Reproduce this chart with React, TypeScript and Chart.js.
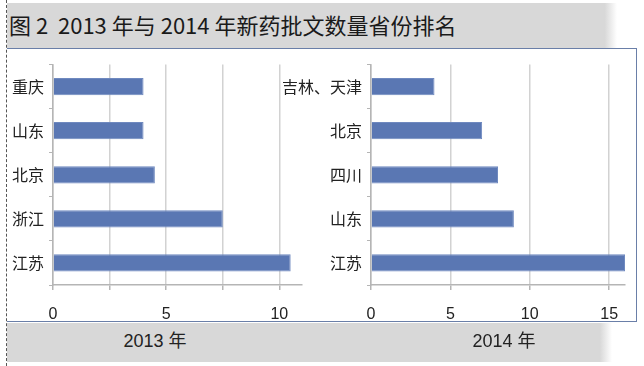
import React, { useEffect, useRef } from "react";
import { Chart, registerables } from "chart.js";

Chart.register(...registerables);

const chartTitle = "图 2  2013 年与 2014 年新药批文数量省份排名";
const leftYearLabel = "2013 年";
const rightYearLabel = "2014 年";

const leftCategories = ["重庆", "山东", "北京", "浙江", "江苏"];
const leftValues = [4, 4, 4.5, 7.5, 10.5];
const leftTickLabels = [0, 5, 10];

const rightCategories = ["吉林、天津", "北京", "四川", "山东", "江苏"];
const rightValues = [4, 7, 8, 9, 16];
const rightTickLabels = [0, 5, 10, 15];

const BAR = "#5a77b3";
const GRID = "#d2d2d2";
const AXIS = "#b5b5b5";
const CJK = '"Noto Sans CJK SC", "Noto Sans", sans-serif';
const NUM = '"Liberation Sans", Arial, sans-serif';

function makeConfig(
  categories: string[],
  values: number[],
  tickLabels: number[],
  max: number,
  step: number,
  yWidth: number,
  padRight: number
): any {
  return {
    type: "bar",
    data: {
      labels: categories,
      datasets: [
        {
          data: values,
          backgroundColor: BAR,
          borderColor: "#6f89bf",
          borderWidth: 1,
          categoryPercentage: 1,
          barPercentage: 0.39,
        },
      ],
    },
    options: {
      indexAxis: "y",
      animation: false,
      responsive: false,
      maintainAspectRatio: false,
      layout: { padding: { top: 12, right: padRight, bottom: 0, left: 0 } },
      plugins: { legend: { display: false }, tooltip: { enabled: false } },
      scales: {
        x: {
          type: "linear",
          min: 0,
          max: max,
          afterFit: (s: any) => {
            s.height = 37;
          },
          ticks: {
            stepSize: step,
            includeBounds: false,
            autoSkip: false,
            maxRotation: 0,
            padding: 15,
            color: "#222",
            font: { family: NUM, size: 16 },
            callback: (v: any) => (tickLabels.includes(Number(v)) ? String(v) : ""),
          },
          grid: {
            color: GRID,
            lineWidth: 1.5,
            drawTicks: true,
            tickLength: 5,
            tickColor: AXIS,
          },
          border: { display: true, color: AXIS, width: 1.5 },
        },
        y: {
          type: "category",
          afterFit: (s: any) => {
            s.width = yWidth;
          },
          ticks: {
            padding: 5,
            color: "#222",
            font: { family: CJK, size: 16 },
          },
          grid: {
            drawOnChartArea: false,
            drawTicks: true,
            tickLength: 4,
            tickColor: AXIS,
            offset: true,
          },
          border: { display: true, color: AXIS, width: 1.5 },
        },
      },
    },
  };
}

function BarChart(props: {
  left: number;
  width: number;
  config: any;
}) {
  const ref = useRef<HTMLCanvasElement | null>(null);
  useEffect(() => {
    if (!ref.current) return;
    const chart = new Chart(ref.current, props.config);
    return () => chart.destroy();
  }, []);
  return (
    <canvas
      ref={ref}
      width={props.width}
      height={272}
      style={{
        position: "absolute",
        left: props.left,
        top: 50,
        width: props.width,
        height: 272,
      }}
    />
  );
}

export default function App() {
  const leftCfg = makeConfig(leftCategories, leftValues, leftTickLabels, 11, 2.5, 45, 18);
  const rightCfg = makeConfig(rightCategories, rightValues, rightTickLabels, 16, 5, 91, 13);
  return (
    <div
      style={{
        position: "fixed",
        left: 0,
        top: 0,
        width: 644,
        height: 366,
        background: "#ffffff",
        overflow: "hidden",
      }}
    >
      {/* top grey band */}
      <div
        style={{
          position: "absolute",
          left: 7,
          top: 3,
          width: 610,
          height: 46,
          background: "linear-gradient(to right, #d8d8d8 0%, #d8d8d8 98%, #ffffff 100%)",
        }}
      />
      {/* bottom grey band */}
      <div
        style={{
          position: "absolute",
          left: 7,
          top: 323,
          width: 605,
          height: 39,
          background: "linear-gradient(to right, #d8d8d8 0%, #d8d8d8 98%, #ffffff 100%)",
        }}
      />
      {/* white chart box */}
      <div
        style={{
          position: "absolute",
          left: 7,
          top: 48,
          width: 630,
          height: 274,
          background: "#ffffff",
          borderTop: "1.5px solid #6a7fa8",
          borderRight: "1.5px solid #6a7fa8",
          borderBottom: "1.5px solid #6a7fa8",
          boxSizing: "border-box",
        }}
      />
      {/* dotted left line */}
      <div
        style={{
          position: "absolute",
          left: 6,
          top: 0,
          width: 0,
          height: 366,
          borderLeft: "1px dashed #555",
        }}
      />
      <div
        style={{
          position: "absolute",
          left: 9,
          top: 12,
          fontFamily: CJK,
          fontSize: 22,
          lineHeight: "24px",
          color: "#1a1a1a",
          whiteSpace: "pre",
        }}
      >
        {chartTitle}
      </div>
      <BarChart left={8} width={312} config={leftCfg} />
      <BarChart left={280} width={358} config={rightCfg} />
      <div
        style={{
          position: "absolute",
          left: 105,
          width: 100,
          top: 331,
          textAlign: "center",
          fontFamily: NUM + ", " + CJK,
          fontSize: 18,
          lineHeight: "20px",
          color: "#222",
        }}
      >
        {leftYearLabel}
      </div>
      <div
        style={{
          position: "absolute",
          left: 454,
          width: 100,
          top: 331,
          textAlign: "center",
          fontFamily: NUM + ", " + CJK,
          fontSize: 18,
          lineHeight: "20px",
          color: "#222",
        }}
      >
        {rightYearLabel}
      </div>
    </div>
  );
}
